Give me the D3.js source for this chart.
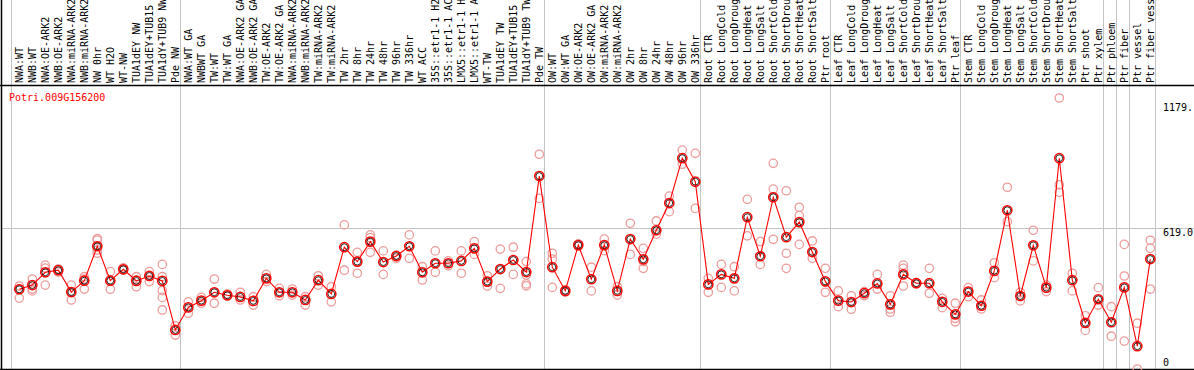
<!DOCTYPE html>
<html>
<head>
<meta charset="utf-8">
<script src="https://cdn.jsdelivr.net/npm/d3@7"></script>
<style>
  body { margin: 0; background: #fff; }
  svg text { font-family: "DejaVu Sans Mono", "Liberation Mono", monospace; font-size: 10px; }
</style>
</head>
<body>
<div id="chart"></div>
<script>
// sample labels, in drawing order
const samples = [
  "NWA:WT", "NWB:WT", "NWA:OE-ARK2", "NWB:OE-ARK2", "NWA:miRNA-ARK2", "NWB:miRNA-ARK2",
  "NW 0hr", "WT H2O", "WT-NW", "TUA1dEY NW", "TUA1dEY+TUB15", "TUA1dY+TUB9 NW", "Pde NW",
  "NWA:WT GA", "NWBWT GA", "TW:WT", "TW:WT GA", "NWA:OE-ARK2 GA", "NWB:OE-ARK2 GA",
  "TW:OE-ARK2", "TW:OE-ARK2 GA", "NWA:miRNA-ARK2", "NWB:miRNA-ARK2", "TW:miRNA-ARK2", "TW:miRNA-ARK2",
  "TW 2hr", "TW 8hr", "TW 24hr", "TW 48hr", "TW 96hr", "TW 336hr", "WT ACC",
  "35S::etr1-1 H2", "35S::etr1-1 AC", "LMX5::etr1-1 H", "LMX5::etr1-1 A", "WT-TW",
  "TUA1dEY TW", "TUA1dEY+TUB15", "TUA1dY+TUB9 TW", "Pde TW",
  "OW:WT", "OW:WT GA", "OW:OE-ARK2", "OW:OE-ARK2 GA", "OW:miRNA-ARK2", "OW:miRNA-ARK2",
  "OW 2hr", "OW 8hr", "OW 24hr", "OW 48hr", "OW 96hr", "OW 336hr",
  "Root CTR", "Root LongCold", "Root LongDroug", "Root LongHeat", "Root LongSalt",
  "Root ShortCold", "Root ShortDrou", "Root ShortHeat", "Root ShortSalt", "Ptr root",
  "Leaf CTR", "Leaf LongCold", "Leaf LongDroug", "Leaf LongHeat", "Leaf LongSalt",
  "Leaf ShortCold", "Leaf ShortDrou", "Leaf ShortHeat", "Leaf ShortSalt", "Ptr leaf",
  "Stem CTR", "Stem LongCold", "Stem LongDroug", "Stem LongHeat", "Stem LongSalt",
  "Stem ShortCold", "Stem ShortDrou", "Stem ShortHeat", "Stem ShortSalt", "Ptr shoot", "Ptr xylem",
  "Ptr phloem", "Ptr fiber", "Ptr vessel", "Ptr fiber vess"
];

// index of the first sample of each group (separator lines)
const groupStarts = [0, 13, 41, 53, 63, 73, 84, 85, 86, 88];

// mean expression per sample
const means = [
  356, 374, 429, 438, 344, 393, 541, 393, 442, 392, 413, 392, 181,
  278, 307, 343, 330, 323, 306, 403, 343, 343, 310, 395, 336, 537, 475, 561, 473, 499,
  541, 429, 468, 468, 478, 532, 389, 443, 482, 430, 843,
  451, 349, 546, 399, 546, 349, 572, 485, 610, 727, 920, 819,
  377, 420, 403, 666, 498, 752, 580, 645, 516, 390,
  307, 301, 339, 381, 291, 420, 382, 382, 302, 248,
  346, 285, 435, 696, 327, 545, 363, 920, 395, 211, 313,
  214, 364, 111, 486
];

// replicate values per sample
const reps = [
  [370, 357, 318], [400, 357, 349], [460, 447, 374], [443, 439, 430], [374, 344, 310],
  [410, 400, 357], [574, 568, 525, 511], [432, 393, 356], [448, 439], [410, 396, 367],
  [432, 417, 389], [463, 410, 350, 321, 267], [199, 159],
  [302, 253], [321, 296], [400, 296], [336, 327], [343, 310], [324, 288], [420, 389],
  [360, 328], [357, 331], [324, 288], [414, 374], [367, 302], [633, 438], [515, 425],
  [590, 578, 515], [521, 420], [503, 489], [590, 489], [453, 396], [521, 429], [478, 457],
  [521, 425], [561, 506], [414, 370], [529, 360], [537, 420], [475, 417, 379, 371], [937, 747],
  [511, 486, 364], [353, 344], [551, 542], [451, 349], [572, 522], [367, 331], [640, 506],
  [532, 475, 446], [650, 593], [757, 690], [955, 894], [941, 704],
  [403, 343], [463, 364], [453, 349], [743, 586], [561, 463], [898, 787, 571],
  [780, 511, 446], [709, 673, 549], [564, 489], [446, 343],
  [349, 281], [328, 270], [346, 328], [420, 357], [328, 271, 257], [460, 446, 370],
  [385, 379], [446, 339], [317, 277], [296, 231, 216],
  [363, 324], [310, 271], [470, 406], [795, 647], [343, 306], [610, 478], [374, 346],
  [1179, 805, 773], [425, 349], [242, 179], [363, 288],
  [281, 154], [549, 413, 133], [210, 13], [567, 532, 357]
];

const geneId = "Potri.009G156200";
const yMax = 1179;
const yRef = 619;

const W = 1194, H = 370;
const labelBottom = 85, plotBottom = 369;

const svg = d3.select("#chart").append("svg")
  .attr("width", W)
  .attr("height", H);

svg.append("rect").attr("width", W).attr("height", H).attr("fill", "#fff");

const x = d3.scaleLinear().domain([0, samples.length - 1]).range([19.3, 1150.3]);
const y = d3.scaleLinear().domain([0, yMax]).range([372, 98]);

// group separators
svg.append("g").selectAll("line")
  .data(groupStarts)
  .join("line")
  .attr("x1", d => Math.round(x(d) - 8.5) + 0.5)
  .attr("x2", d => Math.round(x(d) - 8.5) + 0.5)
  .attr("y1", 0).attr("y2", H)
  .attr("stroke", "#c4c4c4");

// reference grid line
svg.append("line")
  .attr("x1", 2).attr("x2", W)
  .attr("y1", Math.round(y(yRef)) + 0.5).attr("y2", Math.round(y(yRef)) + 0.5)
  .attr("stroke", "#c4c4c4");

// frame
svg.append("line").attr("x1", 0).attr("x2", W).attr("y1", labelBottom + 0.5).attr("y2", labelBottom + 0.5)
  .attr("stroke", "#000").attr("stroke-width", 1.5);
svg.append("line").attr("x1", 0).attr("x2", W).attr("y1", plotBottom + 0.5).attr("y2", plotBottom + 0.5)
  .attr("stroke", "#000").attr("stroke-width", 1.5);
svg.append("line").attr("x1", 1.5).attr("x2", 1.5).attr("y1", 0).attr("y2", H)
  .attr("stroke", "#000").attr("stroke-width", 1.5);

// sample labels
svg.append("g").selectAll("text")
  .data(samples)
  .join("text")
  .attr("transform", (d, i) => `translate(${x(i) + 3.5},${labelBottom - 2}) rotate(-90)`)
  .attr("fill", "#000")
  .text(d => d);

// gene id
svg.append("text").attr("x", 9).attr("y", 101).attr("fill", "#f00").text(geneId);

// value labels
svg.append("text").attr("x", 1163).attr("y", y(yMax) + 13).text("1179.");
svg.append("text").attr("x", 1163).attr("y", y(yRef) + 8).text("619.0");
svg.append("text").attr("x", 1163).attr("y", 366).text("0");

// replicates
const repPts = [];
reps.forEach((r, i) => r.forEach(v => repPts.push({ i, v })));
svg.append("g").selectAll("circle")
  .data(repPts)
  .join("circle")
  .attr("cx", d => x(d.i))
  .attr("cy", d => y(d.v))
  .attr("r", 4.2)
  .attr("fill", "none")
  .attr("stroke", "#ee9c9c")
  .attr("stroke-width", 1.3);

// mean line
svg.append("path")
  .datum(means)
  .attr("d", d3.line().x((d, i) => x(i)).y(d => y(d)))
  .attr("fill", "none")
  .attr("stroke", "#f00")
  .attr("stroke-width", 1.1);

// mean markers
const mg = svg.append("g").selectAll("g")
  .data(means)
  .join("g")
  .attr("transform", (d, i) => `translate(${x(i)},${y(d)})`);
mg.append("circle").attr("r", 4.6).attr("fill", "none").attr("stroke", "#f00").attr("stroke-width", 1.5);
mg.append("circle").attr("r", 3.4).attr("fill", "none").attr("stroke", "#000").attr("stroke-width", 0.8);
</script>
</body>
</html>
